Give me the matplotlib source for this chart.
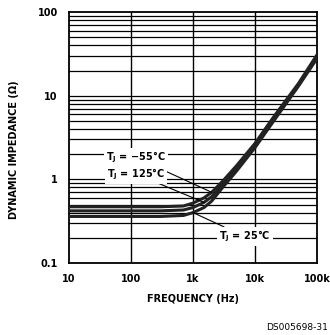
import matplotlib.pyplot as plt
from matplotlib.ticker import FixedLocator, NullFormatter

# Data
freq = [10, 100, 300, 700, 1000, 1500, 2000, 3000, 5000, 10000, 20000, 50000, 100000]
z_m55 = [0.47, 0.47, 0.47, 0.48, 0.52, 0.60, 0.70, 0.95, 1.45, 2.7, 5.6, 14, 31]
z_125 = [0.42, 0.42, 0.42, 0.43, 0.46, 0.53, 0.62, 0.88, 1.35, 2.55, 5.3, 13.5, 30]
z_25 = [0.36, 0.36, 0.36, 0.37, 0.40, 0.46, 0.55, 0.80, 1.25, 2.4, 5.0, 13, 28]

x_ticks = [10, 100, 1000, 10000, 100000]
x_labels = ['10', '100', '1k', '10k', '100k']
y_ticks = [0.1, 1, 10, 100]
y_labels = ['0.1', '1', '10', '100']

fig = plt.figure(figsize=(3.3, 3.35), dpi=100)
ax = fig.add_axes([0.209, 0.215, 0.752, 0.749])
ax.set_xscale('log')
ax.set_yscale('log')
ax.set_xlim(10, 100000)
ax.set_ylim(0.1, 100)

# grid: decades vertical, full log minor horizontal
for xv in x_ticks[1:-1]:
    ax.axvline(xv, color='black', lw=1.0, zorder=1)
minor_y = [m * 10.0 ** e for e in (-1, 0, 1) for m in range(2, 10)]
for yv in minor_y + y_ticks[1:-1]:
    ax.axhline(yv, color='black', lw=0.9, zorder=1)

for z in (z_m55, z_125, z_25):
    ax.plot(freq, z, color='#222222', lw=2.2, zorder=3)

for s in ax.spines.values():
    s.set_linewidth(1.3)

ax.xaxis.set_major_locator(FixedLocator(x_ticks))
ax.yaxis.set_major_locator(FixedLocator(y_ticks))
ax.xaxis.set_minor_formatter(NullFormatter())
ax.yaxis.set_minor_formatter(NullFormatter())
ax.set_xticklabels(x_labels, fontsize=7, fontweight='bold')
ax.set_yticklabels(y_labels, fontsize=7, fontweight='bold')
ax.tick_params(which='both', length=0, pad=8)

ax.set_xlabel('FREQUENCY (Hz)', fontsize=7, fontweight='bold', labelpad=7)
ax.set_ylabel('DYNAMIC IMPEDANCE (Ω)', fontsize=7, fontweight='bold', labelpad=8)
ax.yaxis.set_label_coords(-0.2, 0.45)

box = dict(facecolor='white', edgecolor='none', pad=1.5)
arrow = dict(arrowstyle='-', color='black', lw=0.8, shrinkA=0, shrinkB=0)
ax.annotate(r'T$_\mathregular{J}$ = −55°C', xy=(freq[6], z_m55[6]), xytext=(0.27, 0.42),
            textcoords='axes fraction', fontsize=7, fontweight='bold', ha='center', va='center',
            bbox=box, arrowprops=arrow, zorder=5)
ax.annotate(r'T$_\mathregular{J}$ = 125°C', xy=(freq[5], z_125[5]), xytext=(0.27, 0.355),
            textcoords='axes fraction', fontsize=7, fontweight='bold', ha='center', va='center',
            bbox=box, arrowprops=arrow, zorder=5)
ax.annotate(r'T$_\mathregular{J}$ = 25°C', xy=(freq[4], z_25[4]), xytext=(0.71, 0.105),
            textcoords='axes fraction', fontsize=7, fontweight='bold', ha='center', va='center',
            bbox=box, arrowprops=arrow, zorder=5)

fig.text(0.995, 0.01, 'DS005698-31', fontsize=6.5, ha='right', va='bottom')

fig.savefig('out.png', dpi=100)
